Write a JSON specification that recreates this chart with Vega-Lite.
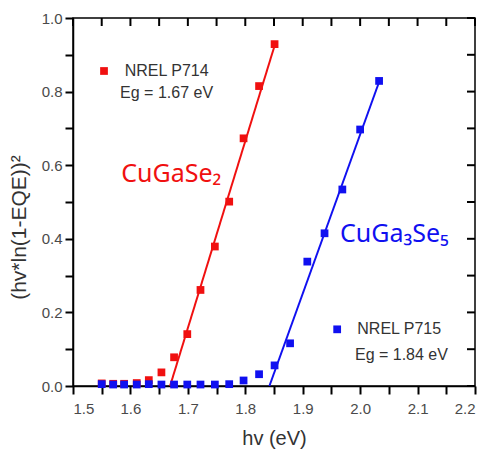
{
  "$schema": "https://vega.github.io/schema/vega-lite/v6.json",
  "width": 402,
  "height": 368,
  "autosize": "none",
  "padding": {"left": 73, "top": 18, "right": 16, "bottom": 68},
  "config": {
    "view": {"stroke": "black", "strokeWidth": 1.5}
  },
  "datasets": {
    "points": [
      {"series": "NREL P714", "hv": 1.550, "v": 0.007},
      {"series": "NREL P714", "hv": 1.570, "v": 0.006},
      {"series": "NREL P714", "hv": 1.589, "v": 0.006},
      {"series": "NREL P714", "hv": 1.611, "v": 0.008},
      {"series": "NREL P714", "hv": 1.632, "v": 0.016},
      {"series": "NREL P714", "hv": 1.654, "v": 0.037},
      {"series": "NREL P714", "hv": 1.676, "v": 0.078},
      {"series": "NREL P714", "hv": 1.699, "v": 0.141},
      {"series": "NREL P714", "hv": 1.722, "v": 0.261},
      {"series": "NREL P714", "hv": 1.747, "v": 0.379},
      {"series": "NREL P714", "hv": 1.772, "v": 0.501},
      {"series": "NREL P714", "hv": 1.797, "v": 0.673},
      {"series": "NREL P714", "hv": 1.824, "v": 0.815},
      {"series": "NREL P714", "hv": 1.851, "v": 0.929},
      {"series": "NREL P715", "hv": 1.550, "v": 0.005},
      {"series": "NREL P715", "hv": 1.570, "v": 0.004},
      {"series": "NREL P715", "hv": 1.589, "v": 0.004},
      {"series": "NREL P715", "hv": 1.611, "v": 0.004},
      {"series": "NREL P715", "hv": 1.632, "v": 0.005},
      {"series": "NREL P715", "hv": 1.654, "v": 0.004},
      {"series": "NREL P715", "hv": 1.676, "v": 0.004},
      {"series": "NREL P715", "hv": 1.699, "v": 0.004},
      {"series": "NREL P715", "hv": 1.722, "v": 0.004},
      {"series": "NREL P715", "hv": 1.747, "v": 0.004},
      {"series": "NREL P715", "hv": 1.772, "v": 0.005},
      {"series": "NREL P715", "hv": 1.797, "v": 0.015},
      {"series": "NREL P715", "hv": 1.824, "v": 0.032},
      {"series": "NREL P715", "hv": 1.851, "v": 0.056},
      {"series": "NREL P715", "hv": 1.878, "v": 0.116},
      {"series": "NREL P715", "hv": 1.908, "v": 0.338},
      {"series": "NREL P715", "hv": 1.938, "v": 0.415},
      {"series": "NREL P715", "hv": 1.969, "v": 0.534},
      {"series": "NREL P715", "hv": 2.000, "v": 0.697},
      {"series": "NREL P715", "hv": 2.033, "v": 0.829}
    ],
    "fits": [
      {"series": "NREL P714", "hv": 1.669, "v": 0.0},
      {"series": "NREL P714", "hv": 1.853, "v": 0.935},
      {"series": "NREL P715", "hv": 1.842, "v": 0.0},
      {"series": "NREL P715", "hv": 2.035, "v": 0.835}
    ],
    "xTicks": [
      {"hv": 1.5}, {"hv": 1.55}, {"hv": 1.6}, {"hv": 1.65}, {"hv": 1.7}, {"hv": 1.75}, {"hv": 1.8}, {"hv": 1.85},
      {"hv": 1.9}, {"hv": 1.95}, {"hv": 2.0}, {"hv": 2.05}, {"hv": 2.1}, {"hv": 2.15}, {"hv": 2.2}
    ],
    "yTicks": [
      {"v": 0.0}, {"v": 0.1}, {"v": 0.2}, {"v": 0.3}, {"v": 0.4}, {"v": 0.5}, {"v": 0.6}, {"v": 0.7}, {"v": 0.8}, {"v": 0.9}, {"v": 1.0}
    ],
    "legendSymbols": [
      {"series": "NREL P714", "hv": 1.554, "v": 0.856},
      {"series": "NREL P715", "hv": 1.960, "v": 0.154}
    ],
    "legendText": [
      {"label": "NREL P714", "hv": 1.590, "v": 0.856},
      {"label": "Eg = 1.67 eV", "hv": 1.582, "v": 0.796},
      {"label": "NREL P715", "hv": 1.995, "v": 0.155},
      {"label": "Eg = 1.84 eV", "hv": 1.991, "v": 0.084}
    ],
    "compounds": [
      {"series": "NREL P714", "label": "CuGaSe₂", "hv": 1.584, "v": 0.554},
      {"series": "NREL P715", "label": "CuGa₃Se₅", "hv": 1.965, "v": 0.392}
    ]
  },
  "layer": [
    {
      "data": {"name": "fits"},
      "mark": {"type": "line", "strokeWidth": 2},
      "encoding": {
        "x": {"field": "hv", "type": "quantitative", "scale": {"domain": [1.5, 2.2], "nice": false, "zero": false},
          "axis": {"orient": "bottom", "title": "hv (eV)", "grid": false, "tickCount": 14,
            "labelExpr": "abs(datum.value*10 - round(datum.value*10)) < 0.001 ? format(datum.value, '.1f') : ''",
            "labelFont": "Liberation Sans", "labelFontSize": 15, "labelColor": "#4a4a4a",
            "titleFont": "Liberation Sans", "titleFontSize": 20, "titleFontWeight": "normal", "titleColor": "#333",
            "domainColor": "black", "domainWidth": 1.5, "tickColor": "black", "tickWidth": 2, "tickSize": 8, "labelPadding": 7, "titlePadding": 12}},
        "y": {"field": "v", "type": "quantitative", "scale": {"domain": [0, 1.0], "nice": false},
          "axis": {"orient": "left", "title": "(hv*ln(1-EQE))²", "grid": false, "tickCount": 10,
            "labelExpr": "abs(datum.value*5 - round(datum.value*5)) < 0.001 ? format(datum.value, '.1f') : ''",
            "labelFont": "Liberation Sans", "labelFontSize": 15, "labelColor": "#4a4a4a",
            "titleFont": "Liberation Sans", "titleFontSize": 21, "titleFontWeight": "normal", "titleColor": "#333",
            "titleY": 209,
            "domainColor": "black", "domainWidth": 1.5, "tickColor": "black", "tickWidth": 2, "tickSize": 8, "labelPadding": 3, "titlePadding": 12}},
        "color": {"field": "series", "type": "nominal", "scale": {"domain": ["NREL P714", "NREL P715"], "range": ["#f01010", "#1010f0"]}, "legend": null},
        "detail": {"field": "series"}
      }
    },
    {
      "data": {"name": "xTicks"},
      "mark": {"type": "tick", "orient": "vertical", "size": 8, "thickness": 2, "color": "black", "opacity": 1, "yOffset": 4},
      "encoding": {
        "x": {"field": "hv", "type": "quantitative"},
        "y": {"datum": 1.0, "type": "quantitative"}
      }
    },
    {
      "data": {"name": "yTicks"},
      "mark": {"type": "tick", "orient": "horizontal", "size": 8, "thickness": 2, "color": "black", "opacity": 1, "xOffset": -4},
      "encoding": {
        "y": {"field": "v", "type": "quantitative"},
        "x": {"datum": 2.2, "type": "quantitative"}
      }
    },
    {
      "data": {"name": "points"},
      "mark": {"type": "point", "shape": "square", "filled": true, "opacity": 1, "size": 60},
      "encoding": {
        "x": {"field": "hv", "type": "quantitative"},
        "y": {"field": "v", "type": "quantitative"},
        "color": {"field": "series", "type": "nominal", "legend": null}
      }
    },
    {
      "data": {"name": "legendSymbols"},
      "mark": {"type": "point", "shape": "square", "filled": true, "opacity": 1, "size": 60},
      "encoding": {
        "x": {"field": "hv", "type": "quantitative"},
        "y": {"field": "v", "type": "quantitative"},
        "color": {"field": "series", "type": "nominal", "legend": null}
      }
    },
    {
      "data": {"name": "legendText"},
      "mark": {"type": "text", "align": "left", "baseline": "middle", "font": "Liberation Sans", "fontSize": 16, "color": "#333"},
      "encoding": {
        "x": {"field": "hv", "type": "quantitative"},
        "y": {"field": "v", "type": "quantitative"},
        "text": {"field": "label"}
      }
    },
    {
      "data": {"name": "compounds"},
      "mark": {"type": "text", "align": "left", "baseline": "alphabetic", "font": "Noto Sans", "fontSize": 25},
      "encoding": {
        "x": {"field": "hv", "type": "quantitative"},
        "y": {"field": "v", "type": "quantitative"},
        "text": {"field": "label"},
        "color": {"field": "series", "type": "nominal", "legend": null}
      }
    }
  ]
}
